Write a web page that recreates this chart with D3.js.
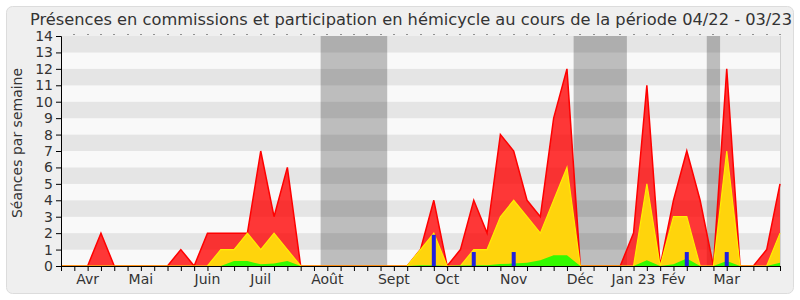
<!DOCTYPE html>
<html><head><meta charset="utf-8">
<script src="https://cdn.jsdelivr.net/npm/d3@7"></script>
<style>body{margin:0;background:#fff;}svg{display:block;font-family:"DejaVu Sans",Verdana,sans-serif;}</style>
</head><body><svg id="c" width="800" height="300"></svg>
<script>
// week index 0 = first week shown (late March 2022), 54 = last (March 2023)
const weeks = d3.range(0, 55);
const presenceTotal = [0,0,0,2,0,0,0,0,0,1,0,2,2,2,2,7,3,6,0,0,0,0,0,0,0,0,0,1,4,0,1,4,2,8,7,4,3,9,12,0,0,0,0,2,11,0,4,7,4,0,12,0,0,1,5];
const presenceCommission = [0,0,0,0,0,0,0,0,0,0,0,0,1,1,2,1,2,1,0,0,0,0,0,0,0,0,0,1,2,0,0,1,1,3,4,3,2,4,6,0,0,0,0,0,5,0,3,3,0,0,7,0,0,0,2];
const participationHemicycle = [0,0,0,0,0,0,0,0,0,0,0,0,0,0.3,0.3,0.1,0.15,0.3,0,0,0,0,0,0,0,0,0,0.05,0.05,0,0.03,0.05,0.05,0.12,0.15,0.2,0.35,0.65,0.65,0,0,0,0,0,0.35,0,0.1,0.45,0,0,0.3,0,0,0,0.2];
const questionWeeks = [28,31,34,47,50];
const questionValues = [1.9,0.85,0.85,0.85,0.85];
const vacationStart = [19.5,38.5,48.5];
const vacationEnd = [24.5,42.5,49.5];
const monthLabels = ["Avr","Mai","Juin","Juil","Août","Sept","Oct","Nov","Déc","Jan 23","Fév","Mar"];
const monthWeeks = [2,6,11,15,20,25,29,34,39,43,46,50];
const yTicks = d3.range(0, 15);
const title = "Présences en commissions et participation en hémicycle au cours de la période 04/22 - 03/23";
const yTitle = "Séances par semaine";

const svg = d3.select("#c");
const L = 61, R = 780, T = 36, B = 266;
const x = d3.scaleLinear().domain([0, 54]).range([L, R]);
const y = d3.scaleLinear().domain([0, 14]).range([B, T]);

svg.append("rect").attr("x",6.5).attr("y",6.5).attr("width",787).attr("height",287)
  .attr("rx",6).attr("fill","#efefef").attr("stroke","#dcdcdc");

// stripes
const g = svg.append("g");
d3.range(0,14).forEach(k=>{
  g.append("rect").attr("x",L).attr("width",R-L)
   .attr("y",y(k+1)).attr("height",y(k)-y(k+1))
   .attr("fill", k%2===1 ? "#e5e5e5" : "#f9f9f9");
});
// vacation bands
vacationStart.forEach((s,i)=>{
  g.append("rect").attr("x",x(s)).attr("width",x(vacationEnd[i])-x(s))
   .attr("y",T).attr("height",B-T).attr("fill","rgba(0,0,0,0.24)");
});
svg.append("line").attr("x1",R+0.5).attr("x2",R+0.5).attr("y1",T).attr("y2",B).attr("stroke","#d0d0d0");

const area = vals => d3.area().x((d,i)=>x(weeks[i])).y0(y(0)).y1(d=>y(d))(vals);
const line = vals => d3.line().x((d,i)=>x(weeks[i])).y(d=>y(d))(vals);

svg.append("path").attr("d",area(presenceTotal)).attr("fill","rgba(255,0,0,0.78)");
svg.append("path").attr("d",line(presenceTotal)).attr("fill","none").attr("stroke","#ff0000").attr("stroke-width",1.5);
svg.append("path").attr("d",area(presenceCommission)).attr("fill","#ffd40c");
svg.append("path").attr("d",line(presenceCommission)).attr("fill","none").attr("stroke","#ffee00").attr("stroke-width",1.2);
svg.append("path").attr("d",area(participationHemicycle)).attr("fill","#33fa00");

svg.selectAll("rect.q").data(questionWeeks).enter().append("rect").attr("class","q")
  .attr("x",d=>x(d)-2).attr("width",4)
  .attr("y",(d,i)=>y(questionValues[i])).attr("height",(d,i)=>y(0)-y(questionValues[i]))
  .attr("fill","#2020dd");

// top dots
svg.selectAll("rect.dot").data(weeks.slice(1)).enter().append("rect").attr("class","dot")
  .attr("x",d=>Math.round(x(d))-0.5).attr("y",T-2).attr("width",1).attr("height",1).attr("fill","#333");

// axes
const ya = svg.append("g").attr("transform",`translate(${L},0)`)
  .call(d3.axisLeft(y).tickValues(yTicks).tickSize(5).tickPadding(3).tickFormat(d3.format("d")));
ya.selectAll("text").attr("font-size",14).attr("fill","#333").attr("font-family","DejaVu Sans");
ya.selectAll("line,path").attr("stroke","#000");

const xa = svg.append("g").attr("transform",`translate(0,${B})`)
  .call(d3.axisBottom(x).tickValues(weeks).tickSize(5).tickFormat(""));
xa.selectAll("line,path").attr("stroke","#000");
xa.select("path").attr("d",`M${L},0.5H${R}`);

svg.selectAll("text.m").data(monthLabels).enter().append("text").attr("class","m")
  .attr("x",(d,i)=>x(monthWeeks[i])).attr("y",284).attr("text-anchor","middle")
  .attr("font-size",14).attr("fill","#333").text(d=>d);

svg.append("text").attr("x",411).attr("y",25).attr("text-anchor","middle")
  .attr("font-size",16).attr("fill","#333").attr("textLength",762).attr("lengthAdjust","spacingAndGlyphs").text(title);
svg.append("text").attr("transform","translate(22,143) rotate(-90)").attr("text-anchor","middle")
  .attr("font-size",14).attr("fill","#333").text(yTitle);
</script></body></html>
